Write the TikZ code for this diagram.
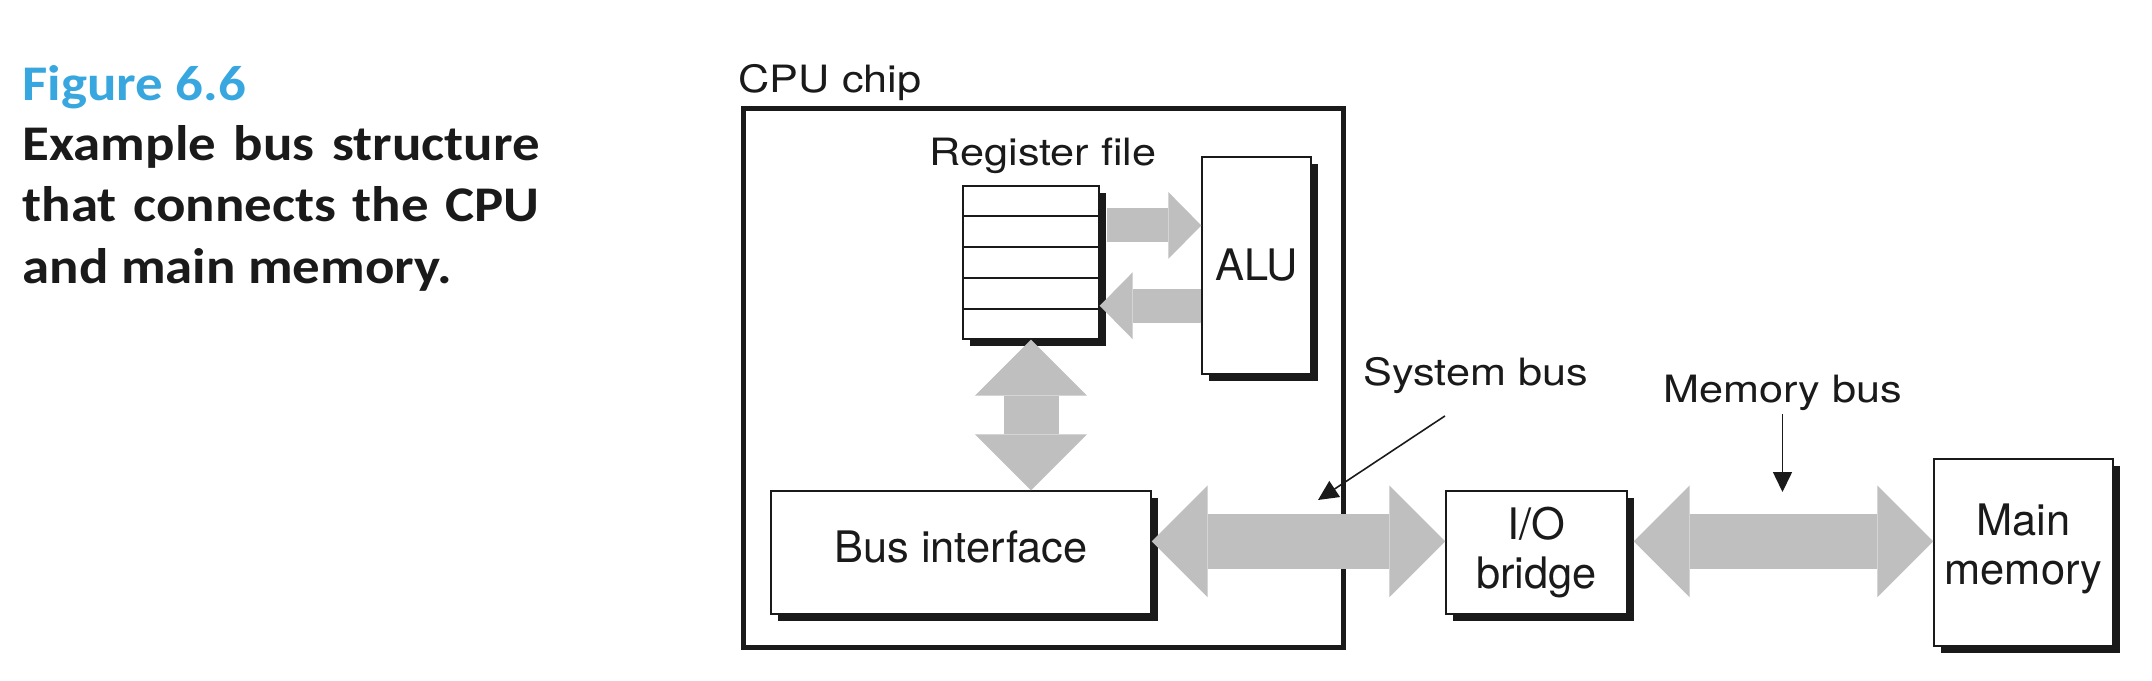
\documentclass[tikz,border=0pt]{standalone}
\usepackage{fontspec}
\setmainfont{TeX Gyre Heros}
\newfontfamily\outfont[FakeStretch=1.15]{TeX Gyre Heros}
\newfontfamily\capfont[FakeStretch=1.1]{Carlito}
\usetikzlibrary{arrows.meta, calc, shadows}
\definecolor{ink}{HTML}{1A1A1A}
\definecolor{busgray}{HTML}{BFBFBF}
\definecolor{figblue}{HTML}{38A7DF}

\begin{document}
\begin{tikzpicture}[
  unit/.style={
    % The shape:
    rectangle,
    inner sep=0pt,
    % The border:
    draw=ink,
    line width=0.4pt,
    % The filling:
    fill=white,
    % shadow at the lower right
    drop shadow={shadow xshift=0.07cm, shadow yshift=-0.07cm, fill=ink, opacity=1},
    % Font
    text=ink,
    align=center,
    font=\fontsize{12.35}{13.94}\selectfont
  },
  outlabel/.style={
    anchor=base,
    inner sep=0pt,
    text=ink,
    font=\outfont\fontsize{10.7}{12}\selectfont
  },
  fatone/.style={
    draw=busgray,
    line width=0.34cm,
    -{Triangle[length=0.33cm, width=0.67cm, line width=0pt]}
  },
  fatboth/.style={
    draw=busgray,
    line width=0.55cm,
    {Triangle[length=0.56cm, width=1.12cm, line width=0pt]}-{Triangle[length=0.56cm, width=1.12cm, line width=0pt]}
  },
  pointer/.style={
    draw=ink,
    line width=0.45pt,
    -{Triangle[length=0.2cm, width=0.19cm]}
  },
  ]

  \useasboundingbox (0,0) rectangle (21.52,6.80);

  % caption on the left
  \node (figno) [anchor=base west, inner sep=0pt, text=figblue,
    font=\capfont\bfseries\fontsize{14.2}{17.5}\selectfont] at (0.22,5.80) {Figure 6.6};
  \node (caption) [anchor=base west, inner sep=0pt, text=ink, text width=5.17cm, align=justify,
    font=\capfont\bfseries\fontsize{14.2}{17.6}\selectfont] at (0.22,5.20)
    {Example bus structure\linebreak that connects the CPU\linebreak and main memory.};

  % the chip
  \node (cpu) [draw=ink, line width=0.05cm, minimum width=6.00cm, minimum height=5.39cm] at (10.435,3.02) {};
  \node (cpulbl) [outlabel, anchor=base west] at (7.38,5.88) {CPU chip};

  % units
  \node (regfile) [unit, minimum width=1.36cm, minimum height=1.53cm] at (10.31,4.175) {};
  \node (regflbl) [outlabel] at (10.43,5.15) {Register file};
  \node (alu) [unit, minimum width=1.09cm, minimum height=2.17cm] at (12.565,4.145) {ALU};
  \node (busif) [unit, minimum width=3.80cm, minimum height=1.23cm, text depth=0.12cm] at (9.61,1.275) {Bus interface};
  \node (iobridge) [unit, minimum width=1.81cm, minimum height=1.23cm] at (15.365,1.275) {I/O\\bridge};
  \node (mainmem) [unit, minimum width=1.79cm, minimum height=1.87cm, text depth=0.17cm] at (20.235,1.275) {Main\\memory};

  % registers inside the file
  \foreach \f in {0.2, 0.4, 0.6, 0.8}
  {
    \draw [ink, line width=0.4pt] ($(regfile.north west)!\f!(regfile.south west)$) -- ($(regfile.north east)!\f!(regfile.south east)$);
  }

  % register file <-> ALU
  \coordinate (r1) at ($(regfile.north east)!0.26!(regfile.south east)$);
  \coordinate (r2) at ($(regfile.north east)!0.78!(regfile.south east)$);
  \draw [fatone] ([xshift=0.07cm]r1) -- (r1 -| alu.west);
  \draw [fatone] (r2 -| alu.west) -- (r2);

  % register file <-> bus interface
  \draw [fatboth] (regfile.south) -- (regfile.south |- busif.north);

  % system bus and memory bus
  \coordinate (s1) at ($(busif.north east)!0.41!(busif.south east)$);
  \coordinate (m1) at (s1 -| iobridge.east);
  \draw [fatboth] (s1) -- (s1 -| iobridge.west);
  \draw [fatboth] ([xshift=0.06cm]m1) -- (s1 -| mainmem.west);

  % bus names
  \node (sysbuslbl) [outlabel] at (14.755,2.95) {System bus};
  \node (membuslbl) [outlabel] at (17.825,2.78) {Memory bus};
  \coordinate (systip) at (13.18,1.80);
  \coordinate (memtip) at (17.825,1.88);
  \draw [pointer] ([xshift=-0.305cm, yshift=-0.22cm]sysbuslbl.south) -- (systip);
  \draw [pointer] ([yshift=-0.03cm]membuslbl.south) -- (memtip);

\end{tikzpicture}
\end{document}
